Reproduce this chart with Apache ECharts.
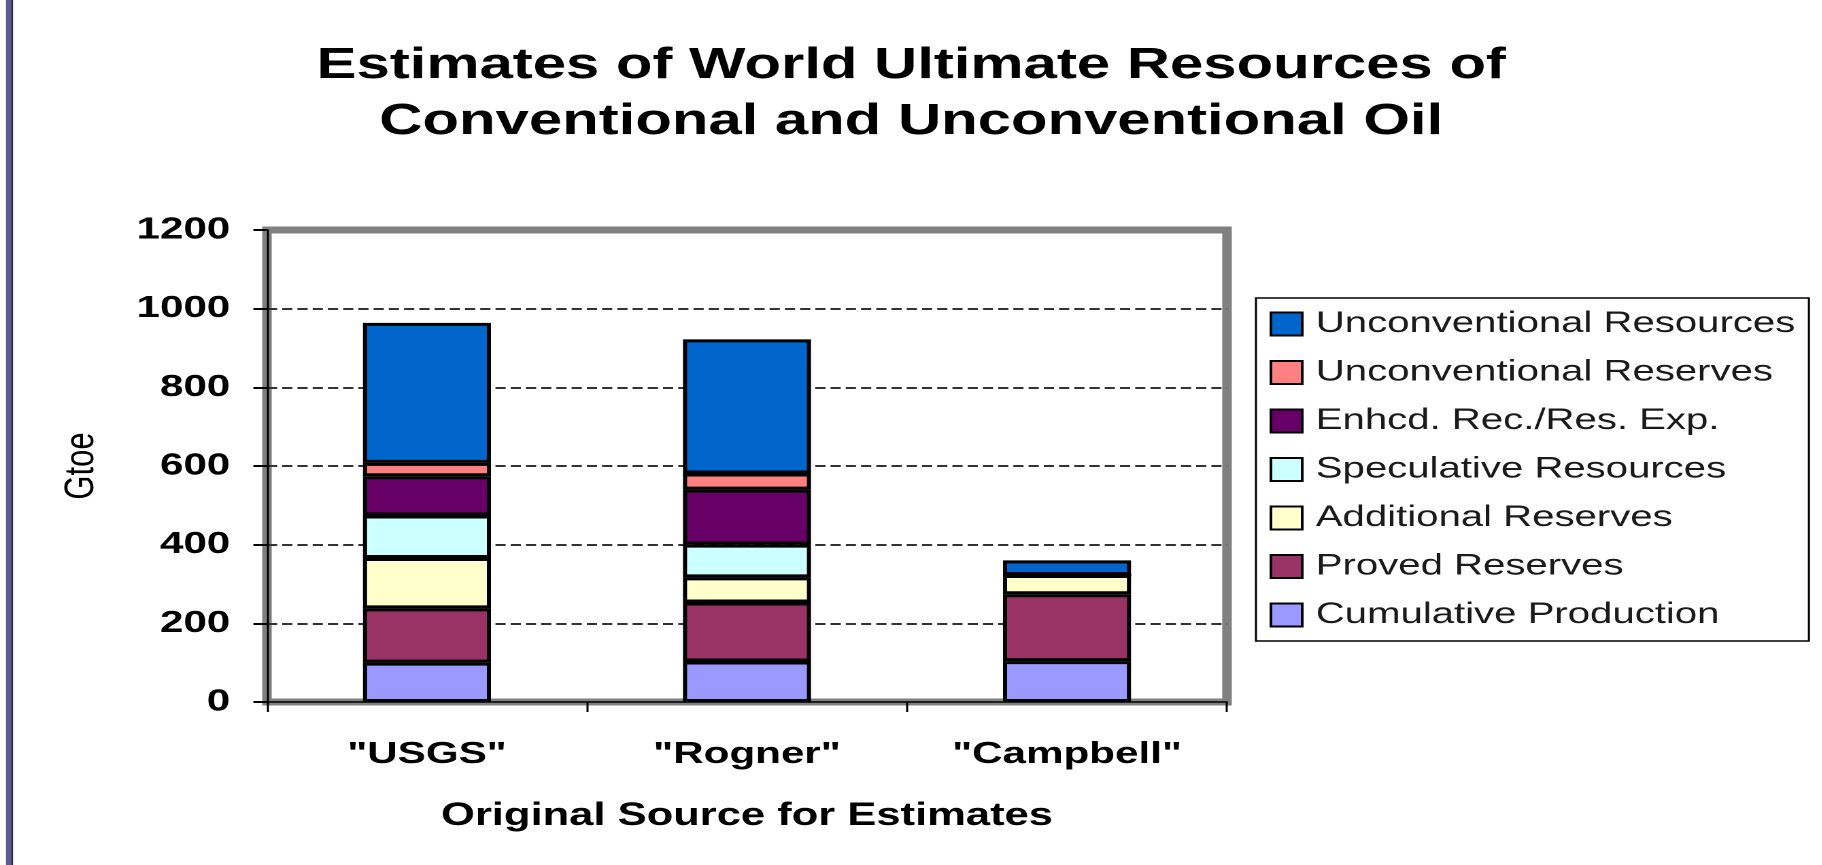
<!DOCTYPE html>
<html>
<head>
<meta charset="utf-8">
<title>Estimates of World Ultimate Resources of Conventional and Unconventional Oil</title>
<script src="https://cdn.jsdelivr.net/npm/echarts@6/dist/echarts.min.js"></script>
<style>
  html, body { margin: 0; padding: 0; background: #ffffff; overflow: hidden; }
  /* The chart is laid out on a narrower canvas and widened, giving the broad lettering of the slide */
  #chart { width: 1340px; height: 865px; transform: scaleX(1.36); transform-origin: 0 0; }
</style>
</head>
<body>
<div id="chart"></div>
<script>
// Sources of the estimates (x categories)
const sources = ['"USGS"', '"Rogner"', '"Campbell"'];

// Resource classes, stacked from the bottom up (Gtoe)
const cumulativeProduction    = [100, 103, 104];
const provedReserves          = [138, 150, 170];
const additionalReserves      = [128, 64, 49];
const speculativeResources    = [108, 83, 0];
const enhancedRecovery        = [100, 140, 0];
const unconventionalReserves  = [34, 41, 0];
const unconventionalResources = [356, 341, 37];

// Value axis ticks
const yTicks = [0, 200, 400, 600, 800, 1000, 1200];

const FONT = '"Liberation Sans", Arial, Helvetica, sans-serif';

const layers = [
  { name: 'Cumulative Production',    data: cumulativeProduction,    color: '#9999FF' },
  { name: 'Proved Reserves',          data: provedReserves,          color: '#993366' },
  { name: 'Additional Reserves',      data: additionalReserves,      color: '#FFFFCC' },
  { name: 'Speculative Resources',    data: speculativeResources,    color: '#CCFFFF' },
  { name: 'Enhcd. Rec./Res. Exp.',    data: enhancedRecovery,        color: '#660066' },
  { name: 'Unconventional Reserves',  data: unconventionalReserves,  color: '#FF8080' },
  { name: 'Unconventional Resources', data: unconventionalResources, color: '#0066CC' }
];

const chart = echarts.init(document.getElementById('chart'), null, { renderer: 'canvas', devicePixelRatio: 2 });

chart.setOption({
  backgroundColor: '#ffffff',
  animation: false,
  title: {
    text: 'Estimates of World Ultimate Resources of\nConventional and Unconventional Oil',
    left: 'center',
    top: 38,
    padding: [0, 0, 0, 10],
    textStyle: {
      fontFamily: FONT,
      fontWeight: 'bold',
      fontSize: 44,
      lineHeight: 56,
      color: '#000000'
    }
  },
  graphic: [
    { type: 'rect', shape: { x: 4.4, y: 0, width: 3.7, height: 865 }, style: { fill: '#5b5b91' }, silent: true },
    { type: 'rect', shape: { x: 8.1, y: 0, width: 1.5, height: 865 }, style: { fill: '#2b2b4a' }, silent: true }
  ],
  legend: {
    orient: 'vertical',
    left: 923.5,
    top: 298,
    padding: [11, 10, 11, 10],
    itemGap: 18.5,
    itemWidth: 23,
    itemHeight: 23,
    borderColor: '#000000',
    borderWidth: 1.5,
    icon: 'rect',
    data: layers.map(l => l.name).reverse(),
    textStyle: {
      fontFamily: FONT,
      fontSize: 29.5,
      color: '#1a1a1a',
      padding: [0, 0, 0, 5]
    }
  },
  grid: {
    left: 196.3,
    right: 437.8,
    top: 230,
    bottom: 163,
    show: true,
    borderColor: '#808080',
    borderWidth: 7,
    backgroundColor: '#ffffff'
  },
  xAxis: {
    type: 'category',
    data: sources,
    name: 'Original Source for Estimates',
    nameLocation: 'middle',
    nameGap: 98,
    nameTextStyle: { fontFamily: FONT, fontWeight: 'bold', fontSize: 32, color: '#000000' },
    axisLine: { show: true, lineStyle: { color: '#000000', width: 1.5 } },
    axisTick: { show: true, alignWithLabel: false, length: 10, lineStyle: { color: '#000000', width: 1.5 } },
    axisLabel: { margin: 37, fontFamily: FONT, fontWeight: 'bold', fontSize: 31, color: '#000000' }
  },
  yAxis: {
    type: 'value',
    min: yTicks[0],
    max: yTicks[yTicks.length - 1],
    interval: yTicks[1] - yTicks[0],
    name: 'Gtoe',
    nameLocation: 'middle',
    nameGap: 121,
    nameTextStyle: { fontFamily: FONT, fontSize: 31, color: '#000000' },
    axisLine: { show: true, lineStyle: { color: '#000000', width: 1.5 } },
    axisTick: { show: true, length: 10, lineStyle: { color: '#000000', width: 2 } },
    axisLabel: {
      margin: 27,
      fontFamily: FONT,
      fontWeight: 'bold',
      fontSize: 31,
      color: '#000000',
      formatter: v => String(v)
    },
    splitLine: {
      show: true,
      showMinLine: false,
      showMaxLine: false,
      lineStyle: { color: '#333333', width: 2, type: [7.5, 3.7] }
    }
  },
  series: layers.map(l => ({
    name: l.name,
    type: 'bar',
    stack: 'total',
    barWidth: '40%',
    data: l.data,
    itemStyle: { color: l.color, borderColor: '#000000', borderWidth: 3 },
    emphasis: { disabled: true }
  }))
});
</script>
</body>
</html>
